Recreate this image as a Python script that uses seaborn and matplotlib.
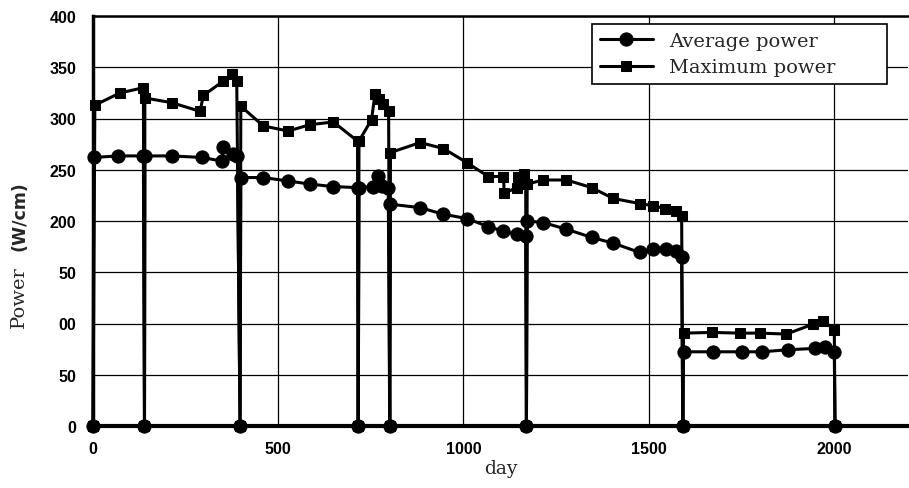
import matplotlib
matplotlib.use("Agg")
import matplotlib.pyplot as plt
import seaborn as sns
import pandas as pd

# ---- data ----
avg_days = [0, 2, 68, 136, 139, 140, 212, 293, 347, 352, 379, 390, 397, 399,
            460, 527, 586, 647, 714, 716, 718, 757, 770, 779, 797, 801, 803,
            883, 946, 1009, 1067, 1108, 1144, 1168, 1170, 1172, 1215, 1278,
            1346, 1404, 1476, 1512, 1548, 1575, 1589, 1592, 1594, 1674, 1751,
            1805, 1877, 1949, 1976, 2001, 2003]
avg_power = [0, 262, 263.5, 263.5, 0, 263.5, 263.5, 262, 258.6, 272.6, 265, 263, 0, 242.4,
             242.4, 239, 236, 233.6, 232.6, 0, 232.6, 233.6, 244, 234, 232.6, 0, 216.4,
             213, 206.6, 202.4, 194.6, 190, 187, 185, 0, 200, 198.5, 192,
             184, 178.4, 169.3, 172.5, 172.5, 171, 164.4, 0, 72.4, 72.4, 72.4,
             72.4, 74.4, 75.7, 76.7, 72.4, 0]

max_days = [0, 5, 73, 136, 139, 140, 212, 289, 298, 352, 374, 388, 397, 399,
            460, 527, 586, 649, 714, 716, 718, 752, 761, 772, 784, 798, 801, 803,
            883, 946, 1009, 1067, 1108, 1110, 1144, 1146, 1163, 1168, 1170, 1172,
            1215, 1278, 1346, 1404, 1476, 1512, 1544, 1574, 1589, 1592, 1594,
            1670, 1746, 1800, 1872, 1944, 1971, 2001, 2003]
max_power = [0, 313, 325, 330, 0, 320, 315.5, 307, 322.6, 336.5, 343, 336.5, 0, 312,
             292.7, 287.8, 294, 296.6, 278, 0, 278, 299, 323.6, 319, 314, 307, 0, 266.8,
             276.5, 270.7, 257, 243.4, 243.4, 227, 232.6, 243, 245.6, 236, 0, 236,
             240, 240, 232.6, 222, 217, 215, 212, 210, 205, 0, 90.6,
             91.3, 90.6, 90.6, 89.7, 99.4, 102.6, 94, 0]

y_ticks = [0, 50, 100, 150, 200, 250, 300, 350, 400]
y_tick_labels = ["0", "50", "00", "50", "200", "250", "300", "350", "400"]
x_ticks = [0, 500, 1000, 1500, 2000]
x_tick_labels = ["0", "500", "1000", "1500", "2000"]

df_avg = pd.DataFrame({"day": avg_days, "power": avg_power})
df_max = pd.DataFrame({"day": max_days, "power": max_power})

sns.set_style("white")
plt.rcParams["font.family"] = ["DejaVu Serif"]

fig = plt.figure(figsize=(9.09, 4.89), dpi=100)
ax = fig.add_axes([93 / 909, 1 - 427 / 489, 815 / 909, 410 / 489])

sns.lineplot(data=df_max, x="day", y="power", sort=False, estimator=None,
             color="black", lw=2.2, marker="s", markersize=7.5,
             markeredgecolor="black", markerfacecolor="black",
             clip_on=False, ax=ax, label="Maximum power", zorder=4)
sns.lineplot(data=df_avg, x="day", y="power", sort=False, estimator=None,
             color="black", lw=2.2, marker="o", markersize=9.5,
             markeredgecolor="black", markerfacecolor="black",
             clip_on=False, ax=ax, label="Average power", zorder=5)

ax.set_xlim(0, 2200)
ax.set_ylim(0, 400)
ax.set_yticks(y_ticks)
ax.set_yticklabels(y_tick_labels)
ax.set_xticks(x_ticks)
ax.set_xticklabels(x_tick_labels)
for lab in ax.get_xticklabels() + ax.get_yticklabels():
    lab.set_family(["Liberation Sans", "DejaVu Sans"])
    lab.set_fontweight("bold")
    lab.set_fontsize(11.5)
ax.tick_params(axis="both", length=0, colors="black")
ax.tick_params(axis="y", pad=12)
ax.tick_params(axis="x", pad=11)

ax.grid(True, color="black", lw=0.9)
ax.set_axisbelow(True)
for side in ["left", "bottom", "top"]:
    ax.spines[side].set_color("black")
ax.spines["left"].set_linewidth(2.5)
ax.spines["bottom"].set_linewidth(3)
ax.spines["top"].set_linewidth(1.8)
ax.spines["right"].set_visible(False)

ax.set_xlabel("day", fontsize=13.5, labelpad=2)
ax.set_ylabel("")
# y-axis label: serif "Power" and bold sans "(W/cm)" as in the reference
fig.text(19 / 909, 1 - 297 / 489, "Power", rotation=90, ha="center", va="center",
         fontsize=14, family="DejaVu Serif")
fig.text(19 / 909, 1 - 216 / 489, "(W/cm)", rotation=90, ha="center", va="center",
         fontsize=12.5, fontweight="bold", family=["DejaVu Sans"])

h, l = ax.get_legend_handles_labels()
leg = ax.legend([h[1], h[0]], [l[1], l[0]], loc="upper left",
                bbox_to_anchor=(0.6123, 0.0, 0.362, 0.9805), mode="expand",
                frameon=True, fancybox=False,
                edgecolor="black", framealpha=1, fontsize=14,
                handlelength=2.7, borderpad=0.42, labelspacing=0.42,
                handletextpad=0.85, borderaxespad=0)
leg.get_frame().set_linewidth(1.2)
for ln in leg.get_lines():
    ln.set_linewidth(2.2)

fig.savefig("out.png", dpi=100)
